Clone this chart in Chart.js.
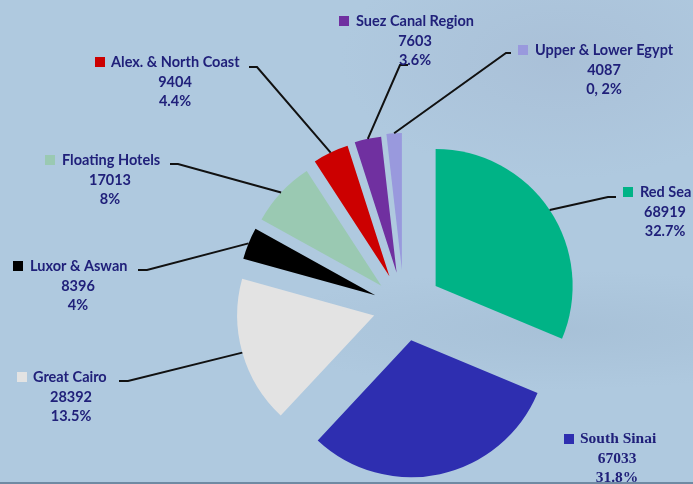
<!DOCTYPE html>
<html>
<head>
<meta charset="utf-8">
<title>Tourism capacity by region</title>
<script src="https://cdn.jsdelivr.net/npm/chart.js@4"></script>
<style>
    html, body { margin: 0; padding: 0; }
    body {
        width: 693px;
        height: 484px;
        overflow: hidden;
        background:
            linear-gradient(to top, #6f8aa3 0, #6f8aa3 2px, transparent 2px),
            radial-gradient(ellipse 220px 120px at 560px 60px, rgba(165,185,210,0.55), transparent),
            radial-gradient(ellipse 300px 60px at 560px 330px, rgba(160,185,208,0.5), transparent),
            #afc9df;
    }
    canvas { display: block; filter: blur(0.45px); }
</style>
</head>
<body>
<canvas id="pieChart" width="693" height="484"></canvas>
<script>
const categories = ["Red Sea", "South Sinai", "Great Cairo", "Luxor & Aswan", "Floating Hotels", "Alex. & North Coast", "Suez Canal Region", "Upper & Lower Egypt"];
const printedValues = ["68919", "67033", "28392", "8396", "17013", "9404", "7603", "4087"];
const printedPercents = ["32.7%", "31.8%", "13.5%", "4%", "8%", "4.4%", "3.6%", "0, 2%"];
// sweep of each slice in degrees, measured on the picture (does not follow the printed numbers exactly)
const sliceDegrees = [112.7, 110.3, 62.5, 13.5, 28, 15.2, 11.3, 6.5];
const sliceColors = ["#00b386", "#2e2eb0", "#e3e3e3", "#000000", "#9ac9b2", "#cc0000", "#7030a0", "#9999dd"];
const sliceOffsets = [38, 34, 31, 31, 31, 34, 35, 37];
const pieRadius = 137;

// label layout: swatch left, name left, centre of number lines, top line y
const labelLayout = [
    { box: 623, name: 640, mid: 665, y: 192 },
    { box: 564, name: 580, mid: 617, y: 439, serif: true },
    { box: 17, name: 33, mid: 71, y: 377 },
    { box: 13, name: 30, mid: 78, y: 266 },
    { box: 45, name: 62, mid: 110, y: 160 },
    { box: 95, name: 111, mid: 175, y: 62 },
    { box: 339, name: 356, mid: 415, y: 21 },
    { box: 518, name: 535, mid: 604, y: 50 }
];
// leader line: outer end next to the label, then the elbow
const leaderLayout = [
    [616, 197, 608, 197],
    null,
    [119, 381, 128, 381],
    [138, 270, 147, 270],
    [170, 164, 178, 164],
    [249, 67, 257, 67],
    [408, 65, 400, 65],
    [511, 53, 506, 53]
];

// the built-in offset option narrows thin slices, so push the arcs out by hand
const explodePlugin = {
    id: "explode",
    afterDatasetsUpdate(chart) {
        chart.getDatasetMeta(0).data.forEach((arc, i) => {
            const mid = (arc.startAngle + arc.endAngle) / 2;
            arc.x += Math.cos(mid) * sliceOffsets[i];
            arc.y += Math.sin(mid) * sliceOffsets[i];
        });
    }
};

const calloutPlugin = {
    id: "callouts",
    afterDraw(chart) {
        const ctx = chart.ctx;
        const arcs = chart.getDatasetMeta(0).data;
        ctx.save();
        arcs.forEach((arc, i) => {
            const leader = leaderLayout[i];
            if (leader) {
                const mid = (arc.startAngle + arc.endAngle) / 2;
                ctx.beginPath();
                ctx.moveTo(leader[0], leader[1]);
                ctx.lineTo(leader[2], leader[3]);
                ctx.lineTo(arc.x + Math.cos(mid) * arc.outerRadius, arc.y + Math.sin(mid) * arc.outerRadius);
                ctx.strokeStyle = "#111111";
                ctx.lineWidth = 2;
                ctx.stroke();
            }
            const pos = labelLayout[i];
            ctx.fillStyle = sliceColors[i];
            ctx.fillRect(pos.box, pos.y - 5, 10, 10);
            ctx.fillStyle = "#20207a";
            ctx.font = pos.serif ? "bold 15.5px 'Liberation Serif'" : "bold 14.5px Lato";
            ctx.textBaseline = "middle";
            ctx.textAlign = "left";
            ctx.fillText(categories[i], pos.name, pos.y);
            ctx.textAlign = "center";
            ctx.fillText(printedValues[i], pos.mid, pos.y + 20);
            ctx.fillText(printedPercents[i], pos.mid, pos.y + 39);
        });
        ctx.restore();
    }
};

new Chart(document.getElementById("pieChart"), {
    type: "pie",
    data: {
        labels: categories,
        datasets: [{
            data: sliceDegrees,
            backgroundColor: sliceColors,
            borderWidth: 0,
            clip: false
        }]
    },
    options: {
        responsive: false,
        animation: false,
        radius: pieRadius,
        layout: { padding: { left: 115, top: 130 } },
        plugins: {
            legend: { display: false },
            tooltip: { enabled: false }
        }
    },
    plugins: [explodePlugin, calloutPlugin]
});
</script>
</body>
</html>
